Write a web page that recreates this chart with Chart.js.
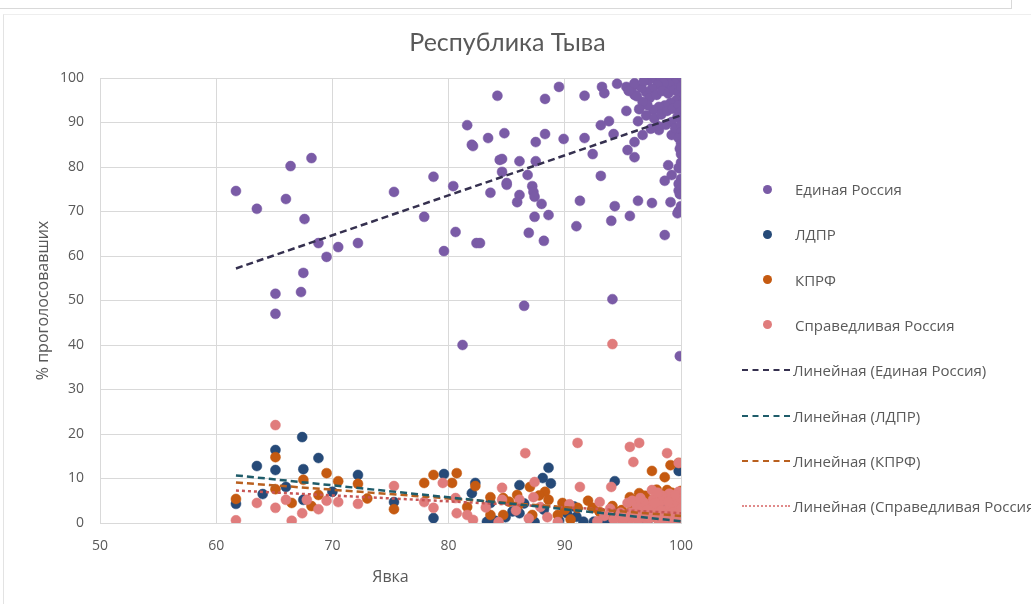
<!DOCTYPE html>
<html>
<head>
<meta charset="utf-8">
<script src="https://cdn.jsdelivr.net/npm/chart.js@4.4.0/dist/chart.umd.min.js"></script>
<style>
    html, body { margin: 0; padding: 0; background: #fff; overflow: hidden; width: 1031px; height: 604px; }
    #wrap { position: relative; width: 1031px; height: 604px; overflow: hidden; }
    #chart { position: absolute; left: 0; top: 0; }
    #topbox { position: absolute; left: -2px; top: -2px; width: 1012px; height: 9px; border: 1px solid #d9d9d9; }
    #frame { position: absolute; left: 3px; top: 14px; width: 1100px; height: 700px; border-left: 1px solid #e3e3e3; border-top: 1px solid #eeeeee; }
    #legend { position: absolute; left: 0; top: 0; font-family: "Open Sans", sans-serif; font-size: 15px; color: #595959; white-space: nowrap; }
    .li { position: absolute; height: 20px; line-height: 20px; }
    .dot { position: absolute; width: 9px; height: 9px; border-radius: 50%; }
    .ln { position: absolute; width: 48px; height: 0; }
</style>
</head>
<body>
<div id="wrap">
    <div id="topbox"></div>
    <div id="frame"></div>
    <canvas id="chart" width="1031" height="604"></canvas>
    <div id="legend"></div>
</div>
<script>
const seriesNames = ['Единая Россия', 'ЛДПР', 'КПРФ', 'Справедливая Россия'];
const pointColors = ['#7a5ba6', '#264a78', '#c55a11', '#e07c7c'];
const trendColors = ['#35304f', '#1f5c6a', '#b9601f', '#c85656'];

const xTicks = [50, 60, 70, 80, 90, 100];
const yTicks = [0, 10, 20, 30, 40, 50, 60, 70, 80, 90, 100];

// [явка, % голосов]
const erPoints = [
    [61.7,74.6],[63.5,70.6],[66.0,72.8],[66.4,80.2],[68.2,82.0],[67.6,68.3],[68.8,62.9],[69.5,59.8],[67.5,56.2],[67.3,51.9],
    [65.1,51.5],[65.1,47.0],[70.5,62.0],[72.2,62.9],[75.3,74.4],[77.9,68.8],[78.7,77.8],[80.4,75.7],[80.6,65.4],[79.6,61.1],
    [81.2,40.0],[82.4,62.9],[83.6,74.2],[83.4,86.5],[82.1,84.7],[81.6,89.4],[84.2,96.0],[84.4,81.6],[84.6,78.9],[84.8,87.6],
    [82.0,85.0],[88.3,95.3],[89.5,98.0],[87.5,85.6],[88.3,87.4],[89.9,86.3],[91.7,96.0],[93.2,98.0],[93.4,96.6],[94.5,98.7],
    [95.3,98.0],[95.8,97.9],[96.0,96.2],[95.3,92.6],[93.1,89.4],[93.8,90.3],[94.2,87.4],[91.7,86.5],[92.4,82.9],[95.4,83.8],
    [96.0,85.6],[96.0,82.2],[96.7,87.2],[96.3,90.3],[98.1,88.3],[99.2,87.2],[98.9,80.4],[99.8,79.8],[99.2,78.2],[98.6,76.9],
    [99.8,74.7],[99.1,72.1],[99.8,70.1],[98.6,64.7],[97.5,71.9],[96.3,72.4],[95.6,69.0],[94.3,71.2],[94.0,67.9],[93.1,78.0],
    [91.3,72.4],[91.0,66.7],[87.5,81.3],[86.1,81.3],[84.6,81.8],[86.8,78.2],[85.0,76.0],[86.1,73.7],[85.9,72.1],[87.2,75.7],
    [87.3,74.4],[87.4,73.3],[88.0,71.7],[88.6,69.2],[87.4,68.8],[86.9,65.2],[88.2,63.4],[82.7,62.9],[85.0,76.4],[86.5,48.8],
    [94.1,50.3],[99.9,37.5],
    [97.2,99.5],[97.8,99.8],[98.3,99.9],[98.8,100],[99.2,99.9],[99.6,100],[100,100],[99.9,99.3],[99.5,98.8],[99.0,98.5],
    [98.5,98.9],[98.0,98.4],[97.5,97.6],[97.0,96.8],[96.6,97.8],[97.3,95.5],[97.9,96.2],[98.4,97.1],[98.9,96.5],[99.4,97.3],
    [99.8,96.8],[100,98.1],[100,95.6],[99.6,95.0],[99.1,94.4],[98.6,93.8],[98.1,93.5],[97.6,92.8],[97.1,93.9],[96.7,94.6],
    [96.4,93.0],[97.0,91.6],[97.7,90.9],[98.3,91.8],[98.8,92.6],[99.3,93.1],[99.8,93.9],[100,92.4],[100,90.8],[99.7,91.2],
    [99.2,90.1],[98.7,89.5],[98.0,89.2],[97.4,88.6],[99.5,88.7],[100,89.4],[100,87.8],[99.8,86.5],[100,85.2],[99.9,84.1],
    [100,82.9],[100,81.0],[99.9,79.7],[100,77.3],[99.8,76.2],[100,75.1],[99.9,73.9],[100,71.2],[100,70.3],[99.7,69.6],
    [96.0,98.8],[96.8,99.3],[95.5,97.1],[96.2,95.9]
];
const ldprPoints = [
    [61.7,4.3],[63.5,12.8],[65.1,16.4],[65.1,11.9],[67.4,19.3],[67.5,12.1],[68.8,14.6],[72.2,10.8],[66.0,8.1],[75.3,4.7],
    [78.7,1.1],[79.6,11.0],[67.5,5.2],[82.3,9.0],[86.1,8.5],[88.1,10.1],[88.6,12.4],[87.4,0.2],[83.3,0.3],[84.9,1.3],
    [94.3,9.4],[99.8,11.7],[98.5,6.3],[86.1,2.2],[91.6,0.3],[93.3,0.2],[83.6,4.5],[82.0,6.7],[90.2,2.2],[95.4,1.1],
    [99.3,0.2],[95.0,0.5],[96.2,1.2],[97.1,0.3],[97.8,2.0],[98.5,0.8],[99.1,1.5],[99.6,0.4],[100,0.9],[100,2.5],
    [99.4,3.1],[96.8,3.4],[98.2,4.0],[100,4.6],[93.8,1.0],[92.5,0.3],[94.6,2.4],[91.0,1.4],[89.5,0.6],[88.2,3.0],
    [87.0,0.8],[85.5,2.6],[84.0,0.5],[86.5,4.4],[90.8,3.7],[88.8,8.9],[64.0,6.5],[70.0,7.0]
];
const kprfPoints = [
    [61.7,5.4],[65.1,14.8],[65.1,7.6],[67.5,9.7],[69.5,11.2],[70.5,9.4],[68.8,6.3],[68.2,3.8],[72.2,8.8],[75.3,3.1],
    [77.9,9.0],[78.7,10.8],[66.5,4.5],[80.7,11.2],[82.3,8.3],[83.6,5.8],[84.7,5.6],[85.9,6.3],[87.0,8.1],[88.3,7.0],
    [88.6,5.2],[87.2,1.8],[89.8,4.5],[91.1,3.4],[92.4,3.4],[94.1,3.8],[95.6,5.8],[96.4,6.7],[97.5,11.7],[98.6,10.3],
    [99.1,13.0],[99.8,13.5],[97.6,5.2],[80.3,9.0],[81.6,3.6],[83.6,1.8],[84.7,1.8],[89.4,1.8],[93.9,1.8],[98.8,7.4],
    [99.3,5.2],[94.9,2.9],[95.2,1.5],[95.8,3.1],[96.5,2.4],[97.0,4.2],[97.6,3.0],[98.2,5.5],[98.7,2.1],[99.2,6.8],
    [99.7,4.1],[100,7.2],[100,5.4],[100,3.0],[100,1.2],[99.5,0.6],[98.0,0.9],[96.9,6.1],[97.9,7.5],[96.2,5.2],
    [86.0,4.0],[90.5,0.8],[92.0,5.0],[73.0,5.5],[85.2,4.8],[87.8,6.2],[90.0,3.0],[93.0,2.5]
];
const srPoints = [
    [65.1,22.0],[61.7,0.6],[63.5,4.5],[65.1,3.4],[66.5,0.5],[67.4,2.2],[66.0,5.2],[67.8,5.2],[69.5,5.0],[70.5,4.7],
    [72.2,4.3],[75.3,8.3],[77.9,4.7],[78.7,3.4],[79.5,9.0],[68.8,3.1],[80.6,5.6],[80.7,2.2],[81.6,1.8],[82.1,0.7],
    [84.6,7.9],[84.6,5.2],[84.3,0.2],[86.1,5.2],[86.6,15.7],[87.4,9.2],[87.3,5.8],[87.9,3.6],[88.5,1.3],[89.4,0.2],
    [91.1,18.0],[91.3,8.1],[93.0,4.7],[94.0,8.1],[95.6,17.1],[96.4,18.0],[95.9,13.7],[98.8,15.7],[99.8,13.5],[97.5,7.4],
    [95.4,4.5],[94.9,0.7],[94.1,40.2],
    [95.5,0.3],[96.0,1.4],[96.5,2.8],[97.0,0.9],[97.4,3.9],[97.8,1.8],[98.2,4.6],[98.5,0.5],[98.8,2.9],[99.1,5.6],
    [99.4,1.2],[99.7,3.6],[100,6.4],[100,4.3],[100,2.1],[100,0.4],[99.8,7.0],[99.0,6.6],[98.4,6.1],[97.6,5.3],
    [96.8,4.6],[96.2,3.8],[95.8,5.0],[94.8,2.3],[94.2,0.8],[93.4,1.6],[92.8,0.4],[93.9,3.2],
    [96.3,0.6],[96.9,2.0],[97.3,1.1],[97.9,3.2],[98.1,0.3],[98.6,1.7],[99.0,3.9],[99.3,2.4],[99.6,5.1],[99.9,1.5],
    [100,3.2],[100,5.5],[99.5,6.3],[98.9,4.8],[98.3,2.8],[97.7,4.4],[97.1,3.0],[96.6,1.5],[95.7,2.3],[95.1,1.0],
    [99.2,0.3],[98.0,6.8],[96.5,5.6],[85.8,2.8],[86.9,1.0],[90.4,4.2],[83.2,3.5]
];

// линии тренда: значения на краях диапазона явки
const trendX = [61.7, 100];
const trendER = [57.2, 91.6];
const trendLDPR = [10.7, 0.4];
const trendKPRF = [9.1, 1.6];
const trendSR = [7.3, 2.2];

const allPoints = [erPoints, ldprPoints, kprfPoints, srPoints];
const allTrends = [trendER, trendLDPR, trendKPRF, trendSR];
const trendDash = [[7, 4], [7, 4], [7, 4], [3, 3]];

const toXY = arr => arr.map(p => ({ x: p[0], y: p[1] }));

const datasets = [];
allTrends.forEach((t, i) => {
    datasets.push({
        label: 'Линейная (' + seriesNames[i] + ')',
        data: trendX.map((x, k) => ({ x: x, y: t[k] })),
        showLine: true, borderColor: trendColors[i], borderWidth: 2.5, borderDash: trendDash[i],
        pointRadius: 0, order: i
    });
});
allPoints.forEach((pts, i) => {
    datasets.push({
        label: seriesNames[i],
        data: toXY(pts),
        backgroundColor: pointColors[i], borderColor: pointColors[i], borderWidth: 0.5,
        pointRadius: 5, order: 10 - i
    });
});

const grid = '#d9d9d9';
const tickFont = { family: '"Open Sans", sans-serif', size: 14 };
const titleFont = { family: '"Open Sans", sans-serif', size: 16 };

new Chart(document.getElementById('chart'), {
    type: 'scatter',
    data: { datasets: datasets },
    options: {
        responsive: false, animation: false,
        layout: { padding: { left: 0, right: 16, top: 0, bottom: 0 } },
        plugins: {
            legend: { display: false }, tooltip: { enabled: false },
            title: {
                display: true, text: 'Республика Тыва', color: '#595959',
                font: { family: 'Lato, sans-serif', size: 25, weight: 'normal' },
                padding: { top: 28, bottom: 20 }
            }
        },
        scales: {
            x: {
                type: 'linear', min: xTicks[0], max: xTicks[xTicks.length - 1],
                afterBuildTicks: s => { s.ticks = xTicks.map(v => ({ value: v })); },
                grid: { color: grid, drawTicks: false }, border: { color: grid },
                ticks: { color: '#595959', font: tickFont, padding: 15 },
                title: { display: true, text: 'Явка', color: '#595959', font: titleFont, padding: { bottom: 17 } },
                afterFit: s => { s.height = 81; }
            },
            y: {
                type: 'linear', min: yTicks[0], max: yTicks[yTicks.length - 1],
                afterBuildTicks: s => { s.ticks = yTicks.map(v => ({ value: v })); },
                grid: { color: grid, drawTicks: false }, border: { color: grid },
                ticks: { color: '#595959', font: tickFont, padding: 16 },
                title: { display: true, text: '% проголосовавших', color: '#595959', font: titleFont, padding: { top: 34 } },
                afterFit: s => { s.width = 100; }
            },
            yDummy: {
                type: 'linear', position: 'right', display: true,
                grid: { display: false }, border: { display: false }, ticks: { display: false },
                afterFit: s => { s.width = 334; }
            }
        }
    }
});

// легенда справа
const legend = document.getElementById('legend');
const legendTop = 189, legendStep = 45.3;
seriesNames.forEach((name, i) => {
    const y = legendTop + i * legendStep;
    legend.insertAdjacentHTML('beforeend',
        '<div class="dot" style="left:763px;top:' + (y - 4.5) + 'px;background:' + pointColors[i] + '"></div>' +
        '<div class="li" style="left:795px;top:' + (y - 10) + 'px">' + name + '</div>');
});
seriesNames.forEach((name, i) => {
    const y = legendTop + (i + 4) * legendStep;
    const style = i === 3 ? 'dotted' : 'dashed';
    const col = i === 3 ? '#e08a8a' : trendColors[i];
    legend.insertAdjacentHTML('beforeend',
        '<div class="ln" style="left:742px;top:' + (y - 1) + 'px;border-top:2px ' + style + ' ' + col + '"></div>' +
        '<div class="li" style="left:793px;top:' + (y - 10) + 'px">Линейная (' + name + ')</div>');
});
</script>
</body>
</html>
